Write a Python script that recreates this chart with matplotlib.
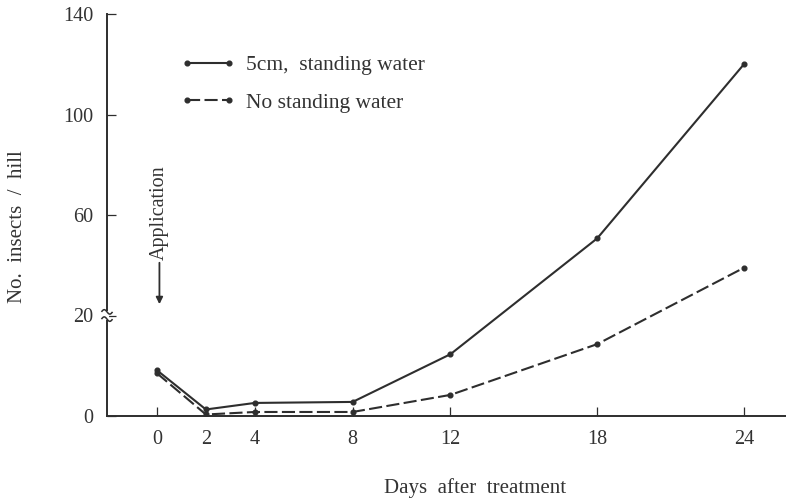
import numpy as np
import matplotlib
matplotlib.use("Agg")
import matplotlib.pyplot as plt
import matplotlib.transforms as mtransforms
from matplotlib.path import Path
from matplotlib.patches import PathPatch

# ---- data ----
days = [0, 2, 4, 8, 12, 18, 24]
standing_water = [9.1, 1.3, 2.6, 2.8, 12.3, 50.7, 120]
no_standing_water = [8.5, 0.3, 0.8, 0.8, 4.2, 14.3, 39]
series_labels = ["5cm,  standing water", "No standing water"]
y_ticks = [0, 20, 60, 100, 140]
x_ticks = [0, 2, 4, 8, 12, 18, 24]

plt.rcParams['font.family'] = ['Liberation Serif', 'DejaVu Serif']
INK = '#2e2e2e'
TXT = '#333333'

def fwd(y):
    y = np.asarray(y, dtype=float)
    return np.where(y <= 20, y / 20.0, 1.0 + (y - 20.0) / 40.0)

def inv(u):
    u = np.asarray(u, dtype=float)
    return np.where(u <= 1, u * 20.0, 20.0 + (u - 1.0) * 40.0)

fig = plt.figure(figsize=(7.86, 4.99), dpi=100)
ax = fig.add_axes([107 / 786, 83 / 499, 679 / 786, 402 / 499])
ax.set_yscale('function', functions=(fwd, inv))

lw = 1.5
ax.plot(days, standing_water, color=INK, lw=lw, marker='o', ms=3.4,
        label=series_labels[0], solid_capstyle='butt')
ax.plot(days, no_standing_water, color=INK, lw=lw, marker='o', ms=3.4,
        linestyle=(0, (6.3, 2.1)), label=series_labels[1])

ax.set_xlim(-2.044, 25.72)
ax.set_ylim(0, 140)
ax.set_xticks(x_ticks)
ax.set_xticklabels([str(t) for t in x_ticks])
ax.set_yticks(y_ticks)
ax.set_yticklabels([str(t) for t in y_ticks])
ax.yaxis.set_minor_locator(matplotlib.ticker.NullLocator())

for s in ['top', 'right']:
    ax.spines[s].set_visible(False)
for s in ['left', 'bottom']:
    ax.spines[s].set_linewidth(1.4)
    ax.spines[s].set_color(INK)

ax.tick_params(axis='both', direction='in', length=6.5, width=0.9, color=INK,
               labelsize=14.5, labelcolor=TXT)
ax.tick_params(axis='y', pad=10)
ax.tick_params(axis='x', pad=10)

ax.text(-0.132, 0.47, "No.  insects  /  hill", transform=ax.transAxes,
        rotation=90, ha='center', va='center', fontsize=15, color=TXT)
ax.text(0.542, -0.179, "Days  after  treatment", transform=ax.transAxes,
        ha='center', va='center', fontsize=15, color=TXT)

# Application annotation
ax.text(0.1, 42, "Application", rotation=90, ha='center', va='bottom',
        fontsize=14.5, color=TXT)
ax.annotate("", xy=(0.1, 24.5), xytext=(0.1, 41),
            arrowprops=dict(arrowstyle='-|>', color=INK, lw=1.3,
                            mutation_scale=10, shrinkA=0, shrinkB=0))

# axis break mark at y = 20
pts_to_px = mtransforms.Affine2D().scale(fig.dpi / 72.0)
anchor = mtransforms.ScaledTranslation(0, 0.25, ax.transAxes)
btrans = pts_to_px + anchor
ax.add_patch(PathPatch(Path([(0, -3.0), (0, 3.0)]), transform=btrans,
                       lw=3, edgecolor='white', facecolor='none',
                       clip_on=False, zorder=5))
t = np.linspace(0, 1, 40)
for dy in (2.6, -2.6):
    verts = np.column_stack([np.linspace(-4.0, 4.0, 40),
                             dy + 1.6 * np.sin(2 * np.pi * t)])
    ax.add_patch(PathPatch(Path(verts), transform=btrans, lw=1.1,
                           edgecolor=INK, facecolor='none', clip_on=False,
                           zorder=6))

leg = ax.legend(loc='upper left', bbox_to_anchor=(0.108, 0.898), frameon=False,
                fontsize=15.5, handlelength=2.55, handletextpad=0.5,
                labelspacing=0.81, borderpad=0, borderaxespad=0, numpoints=2)
for txt in leg.get_texts():
    txt.set_color(TXT)

fig.savefig("out.png", dpi=100)
